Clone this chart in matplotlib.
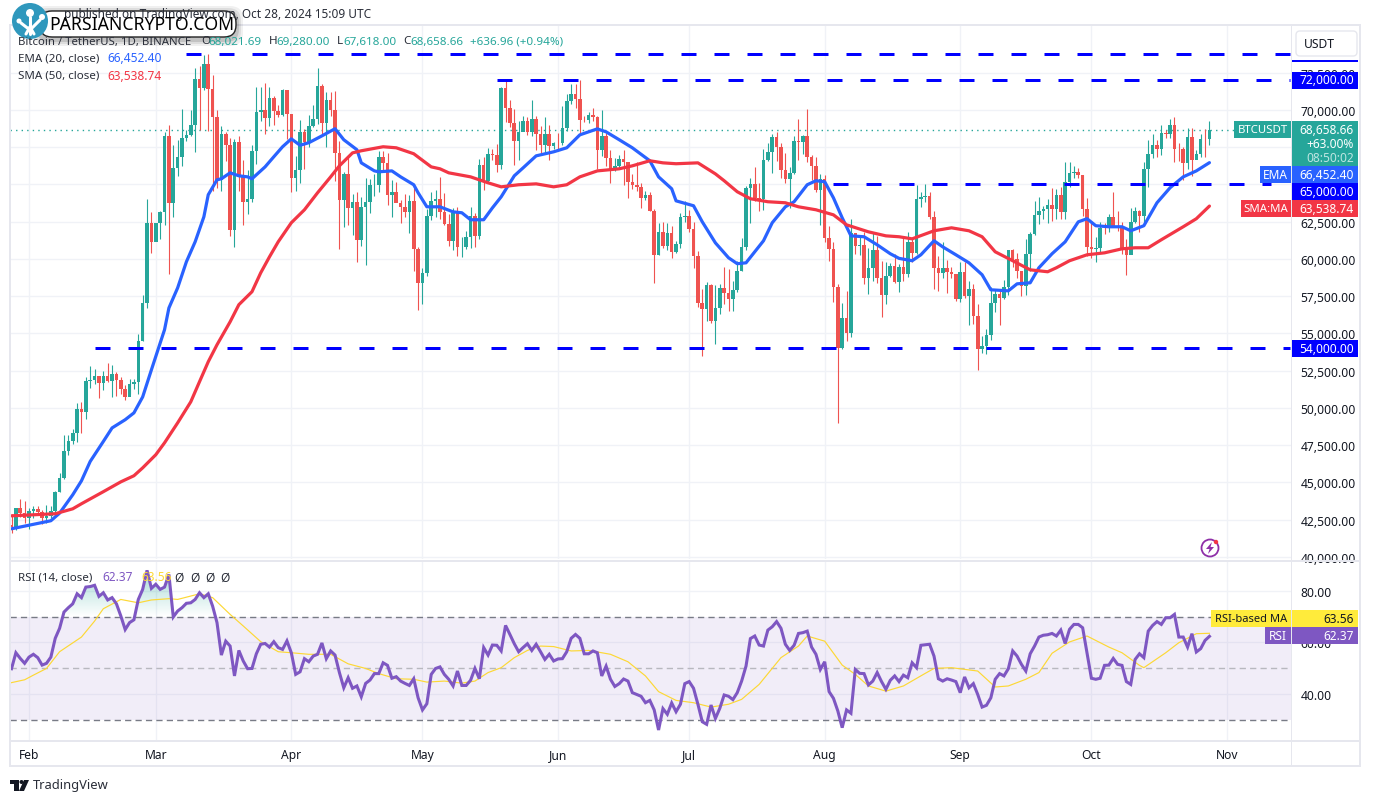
import matplotlib
matplotlib.use("Agg")
import matplotlib.pyplot as plt
import numpy as np
from matplotlib.patches import Circle, FancyBboxPatch, Polygon, Rectangle
from matplotlib.path import Path

plt.rcParams["font.family"] = ["Noto Sans", "DejaVu Sans"]

UP = "#26a69a"
DOWN = "#ef5350"
EMA_BLUE = "#2962ff"
SMA_RED = "#f23645"
LEVEL_BLUE = "#0000ff"
RSI_PURPLE = "#7e57c2"
RSI_YELLOW = "#fdd835"
GRID = "#f0f2f7"
FRAME = "#e6e7ee"
TEXT = "#131722"

# one candle per day, day 0 is Feb 1, first candle Jan 28
days = list(range(-4, 271))

opens = [
    42120, 42031, 43300, 42946,
    # feb
    42580, 43082, 43200, 43011, 42582, 42708, 43098, 44349, 45288, 47132,
    47751, 48299, 49917, 49699, 51795, 51880, 52124, 51642, 52137, 51774,
    52258, 51849, 51283, 50744, 51568, 51728, 54476, 57037, 62432,
    # mar
    61130, 62387, 63137, 68245, 63724, 66074, 66823, 68124, 68313, 68955,
    72078, 71452, 73072, 71388, 69499, 65300, 68393, 67609, 61937, 67840,
    65501, 63796, 64037, 67211, 69880, 69988, 69469, 70780, 69897, 69645, 71333,
    # apr
    69702, 65446, 65980, 68508, 67837, 68896, 69360, 71620, 69146, 70631,
    70006, 67116, 63924, 65661, 63419, 63793, 61277, 63470, 63818, 64941,
    64941, 66819, 66414, 64289, 64498, 63770, 63461, 63118, 63866, 60672,
    # may
    58364, 59060, 62882, 63892, 64038, 63161, 62334, 61187, 63049, 60792,
    60793, 61448, 62901, 61552, 66267, 65231, 67051, 66940, 66278, 71446,
    70136, 69122, 67929, 68526, 69265, 68518, 69394, 68366, 67635, 68354, 67540,
    # jun
    67766, 67765, 68809, 70567, 71082, 70757, 69342, 69305, 69648, 69540,
    67314, 68263, 66773, 66043, 66228, 66676, 66505, 65175, 64974, 64828,
    64096, 64252, 63180, 60277, 61804, 60864, 61706, 60427, 60986, 62772,
    # jul
    62900, 62029, 60208, 57050, 56628, 58230, 55857, 56714, 58050, 57717,
    57334, 57889, 59204, 60797, 64724, 65043, 64087, 63987, 66660, 67139,
    68165, 67532, 65936, 65372, 65777, 67912, 67813, 68255, 66819, 66201, 64619,
    # aug
    65357, 61415, 60680, 58116, 53991, 56034, 55027, 61710, 60880, 60945,
    58719, 59354, 60609, 58737, 57560, 58874, 59491, 58427, 59438, 59013,
    61156, 60381, 64037, 64157, 64220, 62834, 59415, 59034, 59359, 59123, 58973,
    # sep
    57301, 59132, 57487, 57970, 56180, 53962, 54160, 54869, 57042, 57635,
    57339, 58127, 60571, 60005, 59182, 58192, 60308, 61649, 62940, 63192,
    63348, 63578, 63339, 64262, 63152, 65173, 65769, 65858, 65602, 63327,
    # oct
    60805, 60649, 60752, 62086, 62058, 62819, 62224, 62160, 60636, 60273,
    62445, 63193, 62851, 66046, 67042, 67612, 67399, 68418, 68363, 69001,
    67367, 67361, 66432, 68161, 66642, 67014, 68022, 68021.69,
]

closes = [
    42031, 43300, 42946, 42580,
    # feb
    43082, 43200, 43011, 42582, 42708, 43098, 44349, 45288, 47132, 47751,
    48299, 49917, 49699, 51795, 51880, 52124, 51642, 52137, 51774, 52258,
    51849, 51283, 50744, 51568, 51728, 54476, 57037, 62432, 61130,
    # mar
    62387, 63137, 68245, 63724, 66074, 66823, 68124, 68313, 68955, 72078,
    71452, 73072, 71388, 69499, 65300, 68393, 67609, 61937, 67840, 65501,
    63796, 64037, 67211, 69880, 69988, 69469, 70780, 69897, 69645, 71333, 69702,
    # apr
    65446, 65980, 68508, 67837, 68896, 69360, 71620, 69146, 70631, 70006,
    67116, 63924, 65661, 63419, 63793, 61277, 63470, 63818, 64941, 64941,
    66819, 66414, 64289, 64498, 63770, 63461, 63118, 63866, 60672, 58364,
    # may
    59060, 62882, 63892, 64038, 63161, 62334, 61187, 63049, 60792, 60793,
    61448, 62901, 61552, 66267, 65231, 67051, 66940, 66278, 71446, 70136,
    69122, 67929, 68526, 69265, 68518, 69394, 68366, 67635, 68354, 67540, 67766,
    # jun
    67765, 68809, 70567, 71082, 70757, 69342, 69305, 69648, 69540, 67314,
    68263, 66773, 66043, 66228, 66676, 66505, 65175, 64974, 64828, 64096,
    64252, 63180, 60277, 61804, 60864, 61706, 60427, 60986, 62772, 62900,
    # jul
    62029, 60208, 57050, 56628, 58230, 55857, 56714, 58050, 57717, 57334,
    57889, 59204, 60797, 64724, 65043, 64087, 63987, 66660, 67139, 68165,
    67532, 65936, 65372, 65777, 67912, 67813, 68255, 66819, 66201, 64619, 65357,
    # aug
    61415, 60680, 58116, 53991, 56034, 55027, 61710, 60880, 60945, 58719,
    59354, 60609, 58737, 57560, 58874, 59491, 58427, 59438, 59013, 61156,
    60381, 64037, 64157, 64220, 62834, 59415, 59034, 59359, 59123, 58973, 57301,
    # sep
    59132, 57487, 57970, 56180, 53962, 54160, 54869, 57042, 57635, 57339,
    58127, 60571, 60005, 59182, 58192, 60308, 61649, 62940, 63192, 63348,
    63578, 63339, 64262, 63152, 65173, 65769, 65858, 65602, 63327, 60805,
    # oct
    60649, 60752, 62086, 62058, 62819, 62224, 62160, 60636, 60273, 62445,
    63193, 62851, 66046, 67042, 67612, 67399, 68418, 68363, 69001, 67367,
    67361, 66432, 68161, 66642, 67014, 68022, 68021.69, 68658.66,
]

highs = [
    42840, 43305, 43882, 43745,
    # feb
    43285, 43422, 43381, 43119, 43494, 43399, 44396, 45610, 48200, 48170,
    48592, 50334, 50368, 52043, 52816, 52572, 52000, 52473, 52985, 52899,
    52380, 52088, 51500, 51960, 51955, 54938, 57588, 64000, 63114,
    # mar
    62433, 63230, 68499, 69000, 67637, 67990, 70083, 68670, 69990, 72800,
    72969, 73650, 73777, 72357, 70000, 68920, 68500, 68124, 68029, 68240,
    66649, 65970, 67622, 71561, 71500, 71769, 71552, 70939, 70321, 71366, 71288,
    # apr
    69675, 66914, 69291, 68725, 69629, 70327, 72797, 71758, 71172, 71227,
    71256, 67931, 65850, 66867, 64355, 64480, 64125, 65450, 65380, 65700,
    67233, 67208, 67075, 65275, 65130, 63923, 64370, 64250, 64734, 60780,
    # may
    59400, 63320, 64500, 64646, 65500, 64422, 63000, 63421, 63469, 61490,
    61850, 63450, 63100, 66670, 66800, 67451, 67400, 67700, 71515, 71980,
    70666, 70050, 69220, 69562, 69500, 70687, 69591, 68920, 69500, 69000, 67860,
    # jun
    68450, 70288, 71063, 71758, 71700, 71997, 69560, 69850, 70146, 69558,
    70000, 68449, 67315, 66753, 67000, 67298, 66100, 65700, 66482, 65066,
    64546, 64500, 63369, 62435, 62480, 62371, 62227, 61225, 63058, 63861,
    # jul
    63288, 62500, 60498, 58000, 58475, 58320, 58236, 58296, 59470, 59299,
    58526, 59850, 61420, 64900, 65400, 66128, 65103, 67386, 67800, 68366,
    68488, 67800, 67100, 66174, 68250, 69399, 68318, 70079, 67000, 66810, 65660,
    # aug
    65596, 62198, 61117, 58305, 57040, 57850, 62700, 61744, 61470, 61800,
    60700, 61800, 61500, 59848, 59800, 59700, 60300, 59650, 61400, 61800,
    61400, 64955, 64500, 65000, 64500, 63200, 60200, 61100, 59950, 59450, 59000,
    # sep
    59800, 59800, 58500, 58300, 56995, 54850, 55300, 58100, 58000, 58000,
    58600, 60600, 60660, 60400, 59200, 61300, 61800, 63850, 64130, 63560,
    64000, 64750, 64700, 64800, 66500, 66500, 66260, 66080, 65600, 64100,
    # oct
    62400, 61450, 62480, 62370, 63000, 64480, 63200, 62500, 61320, 63400,
    63480, 63300, 66500, 67950, 68400, 68000, 68970, 68670, 69400, 69500,
    67800, 67500, 68800, 68770, 67300, 68350, 68700, 69280,
]

lows = [
    41630, 41804, 42683, 42276,
    # feb
    41884, 42584, 42880, 42222, 42258, 42574, 42788, 44331, 45242, 46800,
    47557, 47710, 48300, 49225, 51315, 51566, 50625, 51200, 51715, 50700,
    50822, 50900, 50500, 50940, 51280, 50901, 54450, 56700, 60364,
    # mar
    61561, 61320, 62300, 59005, 62795, 65537, 66230, 67900, 68250, 67194,
    68620, 71333, 68555, 64533, 64780, 64533, 66560, 61555, 60775, 64529,
    62260, 63000, 63790, 66385, 69250, 68359, 68903, 69000, 69540, 69562, 68062,
    # apr
    64493, 64559, 65064, 66011, 67491, 68824, 69041, 68210, 67518, 69567,
    65254, 60660, 62134, 62274, 61600, 59768, 60833, 59600, 63100, 64237,
    64500, 65864, 63589, 62783, 63792, 62400, 62781, 61765, 59191, 56552,
    # may
    56937, 58848, 62588, 62800, 62700, 62261, 60888, 60610, 60187, 60150,
    60630, 60750, 60765, 61313, 64600, 65106, 66600, 65858, 66060, 69162,
    68830, 66300, 66622, 68777, 68300, 68250, 67277, 67100, 67118, 66600, 67386,
    # jun
    67257, 67612, 68564, 70400, 70117, 68420, 69210, 69126, 69232, 66051,
    66900, 66256, 65078, 65870, 66022, 64970, 64060, 64693, 64559, 63379,
    63943, 63180, 58402, 60239, 60712, 60567, 60072, 60383, 60712, 62500,
    # jul
    61793, 59400, 56771, 53485, 55793, 55724, 54260, 56289, 56950, 56500,
    56500, 57756, 59200, 60600, 62380, 63900, 63220, 63300, 66570, 65777,
    66550, 65450, 65100, 63400, 65700, 66600, 67066, 66500, 65300, 64500, 62300,
    # aug
    61100, 59850, 57122, 49000, 53950, 54500, 54750, 60300, 60240, 58300,
    57650, 58500, 58400, 56078, 57000, 58785, 58400, 57800, 58500, 58800,
    59800, 60350, 63500, 63800, 62700, 58000, 57850, 58700, 57700, 58700, 57200,
    # sep
    57100, 57400, 55555, 55650, 52550, 53700, 53600, 54550, 56400, 55550,
    57300, 57600, 59470, 58700, 57500, 57600, 59170, 61600, 62350, 62700,
    62400, 62550, 62700, 62670, 62670, 64800, 65420, 65420, 62850, 60180,
    # oct
    60050, 59800, 60450, 61680, 61800, 62120, 61850, 60300, 58900, 60400,
    62420, 61800, 62450, 64800, 66750, 66800, 67000, 68100, 68100, 66500,
    66570, 65260, 66000, 65550, 66700, 66800, 66800, 67618,
]

ema_days = [-4, 5, 7, 10, 12, 14, 17, 19, 22, 24, 26, 28, 31, 32, 34, 36, 38, 40, 41, 43, 44, 46, 48, 50, 51, 54, 56, 58, 60, 62,
            64, 67, 70, 72, 75, 76, 79, 80, 83, 85, 88, 89, 91, 94, 97, 99, 101, 104, 106, 108, 111, 113, 116, 120, 123, 126, 128,
            130, 132, 135, 138, 142, 144, 147, 148, 152, 154, 157, 160, 162, 164, 168, 170, 173, 175, 178, 180, 182, 184, 186, 188, 191, 194, 197, 199, 202,
            204, 207, 209, 212, 215, 218, 220, 224, 226, 229, 231, 234, 237, 240, 242, 244, 247, 250, 252, 255, 258, 261, 264, 267, 270]
ema_values = [41880, 42420, 42930, 44160, 45100, 46400, 47740, 48650, 49200, 49660, 50730, 52550, 55240, 56700, 58050, 59800, 61140, 62820, 64300, 65300, 65370, 65770, 65570, 65500, 65370, 66170, 66850, 67520, 68050, 67620,
              67790, 68250, 68730, 67990, 67320, 66440, 65900, 65840, 65900, 65500, 64970, 64430, 63490, 63490, 63150, 63090, 62620, 62620, 63420, 64160, 65570, 66100, 66910, 67180, 67450, 68320, 68520,
              68720, 68520, 67990, 67450, 66580, 65500, 64700, 63890, 63560, 62480, 61070, 60070, 59670, 59730, 61210, 62420, 63490, 63830, 64970, 65240, 65170, 64090, 62750, 61540, 61480, 60940, 60340, 60030, 59870,
              60270, 61210, 60800, 60270, 59730, 58930, 57920, 57850, 58320, 58390, 59400, 60340, 61140, 62480, 62690, 62220, 62150, 62150, 61880, 62220, 63760, 64770, 65500, 65900, 66452.40]

sma_days = [-4, 6, 10, 12, 17, 21, 24, 26, 29, 31, 34, 37, 39, 41, 43, 46, 48, 51, 53, 55, 57, 60, 63, 66, 69, 71, 74, 76, 81, 84, 88, 92, 94, 96, 101, 105, 108, 112, 116, 120, 123, 126, 128,
            130, 135, 138, 142, 145, 148, 153, 157, 159, 162, 165, 169, 173, 176, 180, 184, 187, 192, 196, 199,
            202, 207, 211, 215, 218, 221, 225, 229, 233, 235, 238, 242, 246, 250, 253, 256, 259, 264, 267, 270]
sma_values = [42750, 42890, 43220, 43560, 44370, 45030, 45440, 45970, 46850, 47650, 48990, 50400, 51750, 53090, 54230, 55770, 56920, 57790, 59060, 60130, 61140, 62420, 63290, 64430, 65500, 66240, 67110, 67250, 67520, 67450, 67050, 66170, 66040, 65770, 65500, 65100, 64830, 64970, 65030, 64830, 64970, 65500, 65700,
              65900, 66040, 66240, 66580, 66440, 66380, 66440, 65700, 65240, 64500, 64030, 63830, 63760, 63490, 63290, 62950, 62280, 61810, 61540, 61480,
              61340, 61880, 62080, 61880, 61480, 60470, 59870, 59260, 59130, 59400, 59870, 60270, 60400, 60670, 60740, 60740, 61280, 62150, 62690, 63538.74]

level_values = [73777, 72000, 65000, 54000]
level_start = [36, 107, 184, 15]
level_end = [288.5, 288.5, 284, 288.5]
last_price = 68658.66

rsi = [
    49.8, 56.0, 53.8, 51.9,
    # feb
    54.3, 55.4, 54.1, 51.2, 51.9, 54.3, 61.6, 65.5, 71.8, 73.5,
    75.0, 78.9, 77.4, 81.5, 81.7, 82.2, 77.9, 79.3, 76.5, 77.4,
    75.0, 70.3, 65.0, 67.7, 68.8, 76.7, 80.6, 88.0, 81.0,
    # mar
    82.6, 80.6, 81.5, 86.4, 69.9, 72.2, 73.5, 75.2, 75.4, 76.7,
    79.3, 77.4, 78.9, 74.1, 67.7, 55.1, 60.5, 58.6, 47.0, 56.9,
    52.8, 49.8, 49.9, 55.6, 59.3, 59.6, 58.2, 60.3, 58.0, 57.3, 60.6,
    # apr
    56.0, 47.6, 48.6, 53.7, 52.5, 54.7, 55.4, 59.8, 53.7, 56.7,
    55.1, 48.3, 42.4, 46.3, 42.2, 43.1, 38.9, 44.1, 45.4, 47.9,
    47.9, 52.1, 51.1, 46.1, 46.7, 45.0, 44.1, 43.3, 45.9, 38.5,
    # may
    33.8, 36.2, 47.6, 49.9, 50.5, 47.6, 45.7, 43.1, 48.9, 43.3,
    43.3, 45.3, 49.9, 45.9, 58.0, 55.1, 59.0, 58.9, 56.7, 66.6,
    63.1, 59.5, 56.4, 58.0, 59.5, 56.9, 59.3, 56.4, 53.4, 55.4, 52.8,
    # jun
    53.6, 53.7, 56.4, 61.6, 63.1, 61.6, 55.6, 55.6, 56.7, 56.0,
    47.0, 50.8, 45.7, 42.9, 44.0, 45.8, 45.0, 40.5, 39.8, 39.1,
    36.6, 37.5, 33.8, 26.0, 34.3, 32.1, 36.5, 33.1, 36.0, 44.0,
    # jul
    44.8, 42.2, 36.0, 29.2, 28.2, 35.7, 30.5, 34.4, 39.6, 39.1,
    37.8, 40.5, 45.0, 50.8, 61.5, 62.5, 59.0, 58.6, 64.8, 66.1,
    68.1, 65.5, 59.3, 56.9, 58.9, 63.5, 63.8, 64.4, 58.2, 55.4, 49.5,
    # aug
    52.5, 40.9, 38.3, 33.4, 26.9, 33.8, 32.5, 49.5, 48.0, 47.9,
    43.5, 45.0, 48.3, 44.8, 41.8, 45.3, 47.0, 44.8, 47.3, 46.3,
    52.1, 50.2, 58.9, 59.1, 59.3, 54.7, 45.9, 45.0, 45.9, 45.4, 44.8,
    # sep
    40.5, 46.6, 42.4, 44.0, 39.8, 34.9, 35.6, 38.5, 45.7, 47.9,
    47.0, 49.8, 56.7, 54.7, 51.5, 48.9, 55.6, 58.6, 62.1, 62.8,
    63.0, 63.5, 62.5, 64.8, 59.6, 65.1, 67.0, 67.0, 65.7, 56.0,
    # oct
    46.1, 45.7, 46.1, 51.1, 51.2, 53.8, 51.5, 51.1, 44.8, 43.7,
    53.4, 55.6, 54.1, 64.4, 66.6, 68.1, 67.0, 69.6, 69.6, 70.9,
    62.1, 62.1, 58.2, 63.4, 56.3, 57.6, 60.8, 62.37,
]

rsi_ma_days = [-4, -1, 1, 4, 7, 12, 15, 17, 21, 25, 28, 32, 34, 39, 42, 46, 49, 53, 57, 60, 64,
               69, 73, 77, 80, 84, 88, 91, 95, 99, 102, 105, 108, 111, 114, 117, 120, 124, 128, 131,
               133, 137, 141, 144, 148, 152, 156, 160, 163, 167, 172, 176, 178, 182, 186, 189, 192, 196, 200,
               205, 207, 211, 217, 221, 224, 228, 231, 234, 238, 242, 247, 250, 254, 255, 260, 263, 267, 270]
rsi_ma_values = [44.4, 45.5, 47.3, 49.9, 56.4, 62.1, 68.3, 73.1, 76.7, 75.4, 76.5, 77.0, 76.7, 78.9, 77.4, 70.9, 66.4, 60.3, 56.4, 56.0, 55.4,
                 55.4, 51.7, 49.9, 47.9, 45.9, 45.7, 44.6, 45.0, 44.2, 45.0, 48.3, 50.2, 54.1, 56.9, 58.6, 58.4, 56.7, 56.9, 56.0,
                 55.4, 52.5, 47.0, 40.9, 37.5, 36.6, 34.9, 36.0, 37.9, 43.7, 54.1, 58.6, 62.5, 60.5, 51.2, 47.6, 43.1, 41.1, 43.1,
                 48.0, 49.9, 50.2, 48.9, 42.7, 43.1, 45.7, 48.3, 55.8, 60.2, 62.5, 58.2, 56.0, 51.1, 50.2, 56.0, 59.9, 63.4, 63.56]
rsi_levels = [70, 50, 30]
rsi_ticks = [80, 60, 40]

month_days = [0, 29, 60, 90, 121, 151, 182, 213, 243, 274]
month_labels = ["Feb", "Mar", "Apr", "May", "Jun", "Jul", "Aug", "Sep", "Oct", "Nov"]
price_ticks = list(range(40000, 72501, 2500))
# these two sit fully under the price tags in the reference
hidden_ticks = [65000, 67500]

W, H = 1373, 804
PANE_L, PANE_R = 10, 1291
DAY_PX = 4.372
DAY0_PX = 29

fig = plt.figure(figsize=(W / 100, H / 100), dpi=100)
ax = fig.add_axes([PANE_L / W, (H - 560) / H, (PANE_R - PANE_L) / W, 533 / H])
ax_rsi = fig.add_axes([PANE_L / W, (H - 741) / H, (PANE_R - PANE_L) / W, 179 / H], sharex=ax)
over = fig.add_axes([0, 0, 1, 1], zorder=10)
over.set_xlim(0, W)
over.set_ylim(H, 0)
over.axis("off")

x_min = (PANE_L - DAY0_PX) / DAY_PX
x_max = (PANE_R - DAY0_PX) / DAY_PX

# candles
colors = [UP if c >= o else DOWN for o, c in zip(opens, closes)]
ax.vlines(days, lows, highs, color=colors, linewidth=0.8, zorder=3)
ax.bar(days, np.abs(np.array(closes) - np.array(opens)), bottom=np.minimum(opens, closes),
       width=0.82, color=colors, linewidth=0, zorder=3)
ax.plot(ema_days, ema_values, color=EMA_BLUE, linewidth=2.3, zorder=4, solid_capstyle="round", solid_joinstyle="round")
ax.plot(sma_days, sma_values, color=SMA_RED, linewidth=2.3, zorder=4, solid_capstyle="round", solid_joinstyle="round")
ax.axhline(last_price, color=UP, linewidth=1, linestyle=(0, (1, 3)), xmax=(1234 - PANE_L) / (PANE_R - PANE_L), zorder=2)
for value, start, end in zip(level_values, level_start, level_end):
    ax.plot([start, end], [value, value], color=LEVEL_BLUE, linewidth=2.16, linestyle=(0, (5, 6)), zorder=5)

ax.set_xlim(x_min, x_max)
ax.set_ylim(70000 - (560 - 110.8) / 0.0149, 70000 + (110.8 - 27) / 0.0149)
ax.set_yticks(price_ticks)
ax.set_yticklabels(["" if p in hidden_ticks else f"{p:,.2f}" for p in price_ticks])
ax.yaxis.tick_right()
ax.tick_params(axis="y", length=0, pad=7, labelsize=8.7, labelcolor=TEXT)
ax.tick_params(axis="x", length=0, labelbottom=False)
ax.grid(True, color=GRID, linewidth=1, zorder=0)
ax.set_axisbelow(True)
ax.set_xticks(month_days)

# rsi pane
ax_rsi.axhspan(rsi_levels[2], rsi_levels[0], color=RSI_PURPLE, alpha=0.1, linewidth=0, zorder=1)
for level in rsi_levels:
    shade = "#b8b8bf" if level == 50 else "#787b86"
    ax_rsi.axhline(level, color=shade, linewidth=1, linestyle=(0, (4.5, 3)), zorder=2)

over_fill = ax_rsi.fill_between(days, rsi, rsi_levels[0], where=np.array(rsi) > rsi_levels[0],
                                interpolate=True, alpha=0)
clip = Path.make_compound_path(*over_fill.get_paths())
fade = np.zeros((64, 2, 4))
fade[..., :3] = matplotlib.colors.to_rgb(UP)
fade[..., 3] = np.linspace(0.32, 0.0, 64)[:, None]
img = ax_rsi.imshow(fade, extent=[x_min, x_max, 70, 84], aspect="auto", zorder=2, origin="upper")
img.set_clip_path(clip, transform=ax_rsi.transData)

ax_rsi.plot(rsi_ma_days, rsi_ma_values, color=RSI_YELLOW, linewidth=0.85, zorder=3)
ax_rsi.plot(days, rsi, color=RSI_PURPLE, linewidth=2.2, zorder=4, solid_joinstyle="miter")
ax_rsi.set_xlim(x_min, x_max)
ax_rsi.set_ylim(30 - 20.3 / 2.575, 70 + 55.7 / 2.575)
ax_rsi.set_yticks(rsi_ticks)
ax_rsi.set_yticklabels([f"{v:.2f}" for v in rsi_ticks])
ax_rsi.yaxis.tick_right()
ax_rsi.set_xticks(month_days)
ax_rsi.set_xticklabels(month_labels)
ax_rsi.tick_params(axis="y", length=0, pad=7, labelsize=8.7, labelcolor=TEXT)
ax_rsi.tick_params(axis="x", length=0, pad=6, labelsize=8.7, labelcolor=TEXT)
ax_rsi.grid(True, color=GRID, linewidth=1, zorder=0)
ax_rsi.set_axisbelow(True)

for a in (ax, ax_rsi):
    for s in a.spines.values():
        s.set_visible(False)

# frame of the chart widget
for rect in [(9, 25, 1352, 2), (9, 25, 2, 743), (1359, 25, 2, 743), (9, 766, 1352, 2),
             (10, 561, 1350, 1.5), (10, 741, 1350, 1.5), (1291, 27, 1, 740)]:
    over.add_patch(Rectangle(rect[:2], rect[2], rect[3], facecolor=FRAME, edgecolor="none"))


def t(x, y, s, color=TEXT, size=8.6, ha="left", **kw):
    return over.text(x, y, s, color=color, fontsize=size, ha=ha, va="center", **kw)


def y_of(a, value):
    return H - a.transData.transform((0, value))[1]


def box(x0, x1, y0, y1, color):
    over.add_patch(Rectangle((x0, y0), x1 - x0, y1 - y0, facecolor=color, edgecolor="none"))


AX_L, AX_R = 1292, 1358

# price axis tags
yc = y_of(ax, 72000)
box(AX_L, AX_R, yc - 8.5, yc + 8.5, LEVEL_BLUE)
t(AX_R - 4, yc, "72,000.00", "white", ha="right")
yc = y_of(ax, 54000)
box(AX_L, AX_R, yc - 8.5, yc + 8.5, LEVEL_BLUE)
t(AX_R - 4, yc, "54,000.00", "white", ha="right")

yc = y_of(ax, last_price)
box(1234, 1291, yc - 8.5, yc + 8.5, UP)
t(1262.5, yc, "BTCUSDT", "white", size=8.2, ha="center")
box(AX_L, AX_R, 122, 167, UP)
t(AX_R - 4, 131, "68,658.66", "white", ha="right")
t(AX_R - 4, 144.5, "+63.00%", "white", ha="right")
t(AX_R - 4, 158, "08:50:02", "#bde5e1", ha="right")

box(1260, 1291, 167, 184, EMA_BLUE)
t(1275.5, 175.5, "EMA", "white", ha="center")
box(AX_L, AX_R, 167, 184, EMA_BLUE)
t(AX_R - 4, 175.5, "66,452.40", "white", ha="right")

box(AX_L, AX_R, 184, 201, LEVEL_BLUE)
t(AX_R - 4, 192.5, "65,000.00", "white", ha="right")

box(1241, 1291, 201, 218, SMA_RED)
t(1266, 209.5, "SMA:MA", "white", size=8.2, ha="center")
box(AX_L, AX_R, 201, 218, SMA_RED)
t(AX_R - 4, 209.5, "63,538.74", "white", ha="right")

# rsi tags
box(1211, 1291, 611, 628, "#ffeb3b")
t(1251, 619.5, "RSI-based MA", TEXT, size=8.0, ha="center")
box(AX_L, AX_R, 611, 628, "#ffeb3b")
t(AX_R - 4, 619.5, "63.56", TEXT, ha="right")
box(1265, 1291, 628, 645, RSI_PURPLE)
t(1278, 636.5, "RSI", "white", ha="center")
box(AX_L, AX_R, 628, 645, RSI_PURPLE)
t(AX_R - 4, 636.5, "62.37", "white", ha="right")

# currency button
box(1292, 1358, 61, 63, LEVEL_BLUE)
over.add_patch(FancyBboxPatch((1296, 32), 61, 25, boxstyle="round,pad=0,rounding_size=4",
                              facecolor="white", edgecolor=FRAME, linewidth=1))
t(1304, 44.5, "USDT", TEXT, size=8.7)

# title, legend lines
t(371, 14.5, "published on TradingView.com, Oct 28, 2024 15:09 UTC", "#2a2e39", size=8.5, ha="right")
t(18, 42, "Bitcoin / TetherUS, 1D, BINANCE", "#2a2e39", size=8.2)
t(201, 42, "O", "#2a2e39", size=8.4)
t(208, 42, "68,021.69", UP, size=8.4)
t(269, 42, "H", "#2a2e39", size=8.4)
t(276, 42, "69,280.00", UP, size=8.4)
t(337, 42, "L", "#2a2e39", size=8.4)
t(343, 42, "67,618.00", UP, size=8.4)
t(403, 42, "C", "#2a2e39", size=8.4)
t(410, 42, "68,658.66", UP, size=8.4)
t(470, 42, "+636.96 (+0.94%)", UP, size=8.4)
t(18, 59, "EMA (20, close)", "#2a2e39", size=8.3)
t(107, 59, "66,452.40", EMA_BLUE)
t(18, 76, "SMA (50, close)", "#2a2e39", size=8.3)
t(107, 76, "63,538.74", SMA_RED)
t(18, 578, "RSI (14, close)", "#2a2e39", size=8.3)
t(102, 578, "62.37", RSI_PURPLE)
t(141, 578, "63.56", RSI_YELLOW)
for px in (179, 195, 210, 225):
    t(px, 578, "\u00d8", "#2a2e39", ha="center")

# TradingView mark
t(33, 786, "TradingView", "#2a2e39", size=9.3)
over.add_patch(Polygon([(10, 781), (19, 781), (19, 792), (14, 792), (14, 785), (10, 785)], facecolor=TEXT))
over.add_patch(Circle((21.5, 783), 2, facecolor=TEXT))
over.add_patch(Polygon([(24, 781), (29, 781), (24, 792), (19, 792)], facecolor=TEXT))

# lightning button
over.add_patch(Circle((1210, 549), 8.5, facecolor="white", edgecolor="#8e2fa8", linewidth=1.3))
over.add_patch(Polygon([(1212, 543), (1206, 550), (1209.5, 550), (1208, 555), (1214, 548), (1210.5, 548)],
                       facecolor="#8e2fa8"))
over.add_patch(Circle((1216, 543), 2.2, facecolor="#f23645"))

# site stamp over the chart
for grow, alpha in [(7, 0.06), (5, 0.08), (3, 0.12)]:
    over.add_patch(FancyBboxPatch((40 - grow, 12 - grow + 2), 196 + 2 * grow, 26 + 2 * grow,
                                  boxstyle="round,pad=0,rounding_size=13", facecolor="black",
                                  edgecolor="none", alpha=alpha))
over.add_patch(FancyBboxPatch((40, 12), 196, 26, boxstyle="round,pad=0,rounding_size=12",
                              facecolor="white", edgecolor="#222222", linewidth=1))
over.text(141.5, 25, "PARSIANCRYPTO.COM", color="black", fontsize=12.7, ha="center", va="center", weight="medium")
over.add_patch(Circle((30, 22), 18, facecolor="#2f98bd", edgecolor="none"))
for a0, b0 in [((30, 35), (30, 18)), ((30, 31), (21, 24)), ((30, 31), (40, 21)), ((26, 35), (30, 28)), ((34, 35), (30, 28))]:
    over.plot([a0[0], b0[0]], [a0[1], b0[1]], color="white", linewidth=2.2, solid_capstyle="round")
for c, r in [((30, 14), 4), ((19, 22), 2.5), ((42, 18), 3)]:
    over.add_patch(Circle(c, r, facecolor="white"))

fig.savefig("out.png", dpi=100, facecolor="white")
